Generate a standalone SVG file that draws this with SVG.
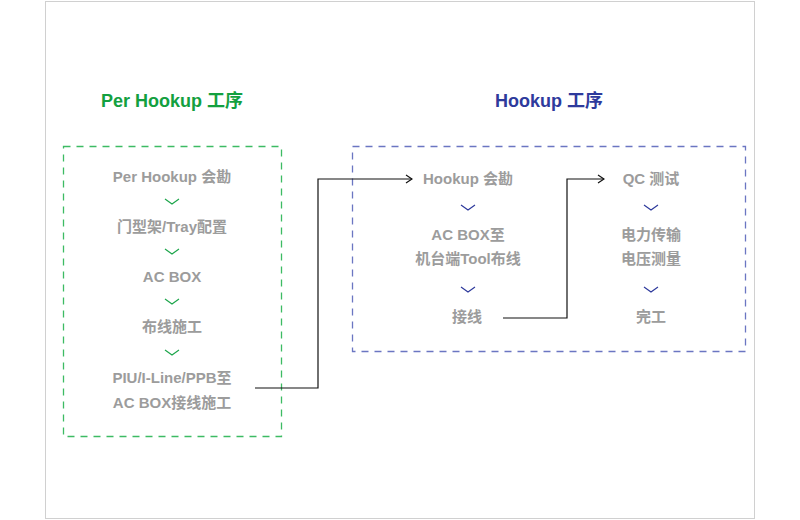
<svg xmlns="http://www.w3.org/2000/svg" width="800" height="520" viewBox="0 0 800 520">
<defs>
<style>
.t{font-family:"Liberation Sans","Noto Sans CJK SC",sans-serif;font-weight:bold;font-size:15px;fill:#9c9c9c;text-anchor:middle}
.h{font-family:"Liberation Sans","Noto Sans CJK SC",sans-serif;font-weight:bold;font-size:18px;text-anchor:middle}
.cg{fill:none;stroke:#1ea64c;stroke-width:1.2}
.cb{fill:none;stroke:#2e3a9c;stroke-width:1.2}
.ln{fill:none;stroke:#111;stroke-width:1.2}
</style>
<marker id="a" markerWidth="8" markerHeight="10" refX="7" refY="5" orient="auto" markerUnits="userSpaceOnUse"><path d="M1,1 L7,5 L1,9" fill="none" stroke="#111" stroke-width="1.2"/></marker>
</defs>
<rect x="45.5" y="1.5" width="709" height="517" fill="#fff" stroke="#d0d0d0"/>
<text class="h" x="172" y="107" fill="#13a03f">Per Hookup 工序</text>
<text class="h" x="549" y="107" fill="#2e3a9c">Hookup 工序</text>
<g id="left">
<rect x="63.5" y="146.5" width="218" height="290" fill="none" stroke="#3dbb63" stroke-width="1.3" stroke-dasharray="7,6"/>
<text class="t" x="172" y="182">Per Hookup 会勘</text>
<path class="cg" d="M165,199 L172,204 L179,199"/>
<text class="t" x="172" y="232">门型架/Tray配置</text>
<path class="cg" d="M165,249 L172,254 L179,249"/>
<text class="t" x="172" y="282">AC BOX</text>
<path class="cg" d="M165,299 L172,304 L179,299"/>
<text class="t" x="172" y="332">布线施工</text>
<path class="cg" d="M165,350 L172,355 L179,350"/>
<text class="t" x="172" y="383">PIU/I-Line/PPB至</text>
<text class="t" x="172" y="408">AC BOX接线施工</text>
</g>
<g id="right">
<rect x="352.5" y="146.5" width="393" height="205" fill="none" stroke="#6b76c2" stroke-width="1.3" stroke-dasharray="7,6"/>
<text class="t" x="468" y="184">Hookup 会勘</text>
<path class="cb" d="M461,205 L468,210 L475,205"/>
<text class="t" x="468" y="240">AC BOX至</text>
<text class="t" x="468" y="264">机台端Tool布线</text>
<path class="cb" d="M461,287 L468,292 L475,287"/>
<text class="t" x="467" y="322">接线</text>
<text class="t" x="651" y="184">QC 测试</text>
<path class="cb" d="M644,205 L651,210 L658,205"/>
<text class="t" x="651" y="240">电力传输</text>
<text class="t" x="651" y="264">电压测量</text>
<path class="cb" d="M644,287 L651,292 L658,287"/>
<text class="t" x="651" y="322">完工</text>
</g>
<g id="connectors">
<path class="ln" d="M255,388 H318 V179 H412" marker-end="url(#a)"/>
<path class="ln" d="M503,318 H567 V179 H604" marker-end="url(#a)"/>
</g>
</svg>
